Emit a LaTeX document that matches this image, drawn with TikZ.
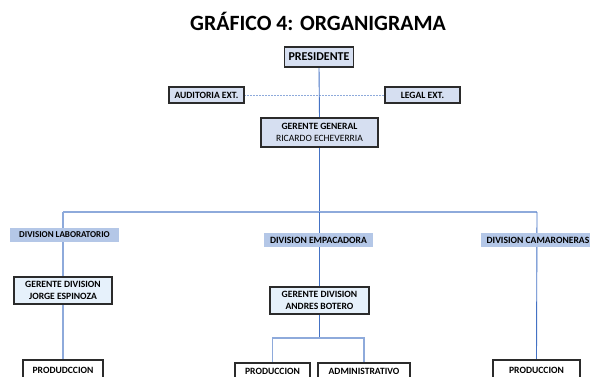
\documentclass[tikz,border=0pt]{standalone}
\usepackage{fontspec}
\setmainfont{Carlito}
\pgfdeclarelayer{background}
\pgfsetlayers{background,main}
\definecolor{hdrfill}{HTML}{D6DFF1}
\definecolor{divfill}{HTML}{B4C7E7}
\definecolor{gdfill}{HTML}{E6F1FB}
\definecolor{linedark}{HTML}{4472C4}
\definecolor{linelight}{HTML}{8EAADB}
\definecolor{boxborder}{HTML}{2B2B2B}
\tikzset{
  every node/.style={inner sep=0pt, outer sep=0pt, align=center, text=black},
  txt/.style={font=\fontsize{9.6}{10.5}\selectfont\bfseries},
  hdrbox/.style={txt, draw=boxborder, line width=1.2pt, fill=hdrfill},
  divbox/.style={txt, fill=divfill, minimum width=109pt, minimum height=14pt},
  gdbox/.style={txt, draw=boxborder, line width=1.2pt, fill=gdfill, minimum height=27pt},
  leafbox/.style={txt, draw=boxborder, line width=1.2pt, fill=white, minimum height=16pt},
  mainline/.style={draw=linedark, line width=0.9pt},
  lightline/.style={draw=linelight, line width=1.1pt},
}
\begin{document}
\begin{tikzpicture}[x=1pt,y=-1pt]
\useasboundingbox (0,0) rectangle (590,376);
\node (title) at (318,21) {\fontsize{21.8}{24}\selectfont\bfseries GRÁFICO 4: ORGANIGRAMA};
\node[hdrbox, font=\fontsize{12}{13}\selectfont\bfseries, minimum width=69pt, minimum height=20pt] (pres) at (319,57) {PRESIDENTE};
\node[hdrbox, minimum width=75pt, minimum height=16pt] (aud) at (206.5,95) {AUDITORIA EXT.};
\node[hdrbox, minimum width=75pt, minimum height=16pt] (legal) at (422.5,95) {LEGAL EXT.};
\node[hdrbox, minimum width=117pt, minimum height=29pt] (gg) at (319.5,132.5) {GERENTE GENERAL\\[1pt]\mdseries RICARDO ECHEVERRIA};
\node[divbox, font=\fontsize{9}{10}\selectfont\bfseries] (divlab) at (64.5,235) {DIVISION LABORATORIO};
\node[divbox] (divemp) at (318.5,240) {DIVISION EMPACADORA};
\node[divbox, minimum width=114pt] (divcam) at (538,240) {DIVISION CAMARONERAS};
\node[gdbox, minimum width=98pt] (gdj) at (63,290.5) {GERENTE DIVISION\\[1pt]JORGE ESPINOZA};
\node[gdbox, minimum width=99pt] (gda) at (319.5,300.5) {GERENTE DIVISION\\[1pt]ANDRES BOTERO};
\node[leafbox, minimum width=80pt, minimum height=20pt] (prod1) at (63,370) {PRODUDCCION};
\node[leafbox, minimum width=75pt] (prod2) at (272.5,371) {PRODUCCION};
\node[leafbox, minimum width=92pt] (adm) at (364,371) {ADMINISTRATIVO};
\node[leafbox, minimum width=87pt, minimum height=20pt] (prod3) at (536.5,370) {PRODUCCION};
\coordinate (barmid) at (319.5,212);
\coordinate (barL) at (63,212);
\coordinate (barR) at (537,212);
\coordinate (forkmid) at (319.5,338);
\coordinate (forkL) at (272.5,338);
\coordinate (forkR) at (364,338);
\begin{pgfonlayer}{background}
\draw[draw=linelight, line width=0.9pt, dash pattern=on 2pt off 1pt] (aud.east) -- (legal.west);
\draw[mainline] (pres.south) -- (gg.north);
\draw[mainline] (gg.south) -- (barmid);
\draw[lightline] (barL) -- (barmid) -- (barR);
\draw[lightline] (barL) -- (gdj.north);
\draw[lightline] (gdj.south) -- (prod1.north);
\draw[mainline] (barmid) -- (gda.north);
\draw[mainline] (gda.south) -- (forkmid);
\draw[lightline] (prod2.north) -- (forkL) -- (forkR) -- (adm.north);
\draw[mainline] (barR) -- (prod3.north);
\end{pgfonlayer}
\end{tikzpicture}
\end{document}
